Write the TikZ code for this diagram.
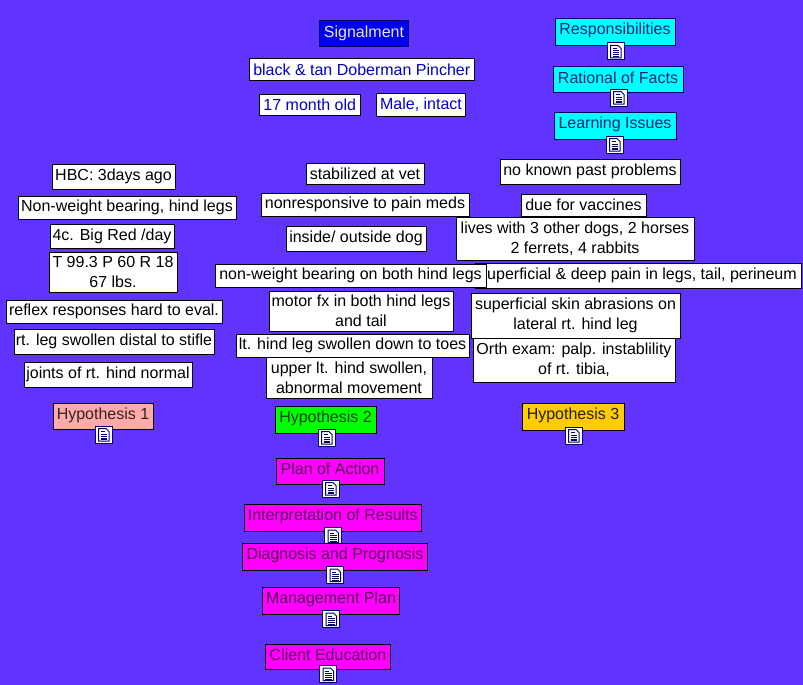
\documentclass[tikz,border=0pt]{standalone}
\usepackage{fontspec}
\setmainfont{Liberation Sans}
\definecolor{bgc}{HTML}{6033FF}
\definecolor{navyc}{HTML}{000066}
\definecolor{bluec}{HTML}{0000CC}
\definecolor{sigc}{HTML}{0000EE}
\definecolor{cyanc}{HTML}{00FFFF}
\definecolor{pinkc}{HTML}{FFAAAA}
\definecolor{greenc}{HTML}{00FF00}
\definecolor{goldc}{HTML}{FFCC00}
\definecolor{magc}{HTML}{FF00FF}
\tikzset{
  boxs/.style={draw=black,line width=1pt,inner sep=0pt,outer sep=0pt,align=center,
    font=\fontsize{16}{20}\selectfont,text=black,fill=white},
  sigbox/.style={fill=sigc,draw=navyc,text=white!90!sigc},
  bluebox/.style={text=bluec},
  cyanbox/.style={fill=cyanc,draw=navyc,text=navyc!85!cyanc},
  pinkbox/.style={fill=pinkc,text=black!80!pinkc},
  greenbox/.style={fill=greenc,text=black!75!greenc},
  goldbox/.style={fill=goldc,text=black!85!goldc},
  magbox/.style={fill=magc,text=black!65!magc},
  iconbox/.style={draw=navyc,fill=white,line width=1pt,minimum size=17pt,inner sep=0pt,outer sep=0pt},
  iconink/.style={draw=navyc,line width=1pt},
}
\newcommand\bx[7]{\node[boxs,#6,minimum width={(#4-#2)*1pt},minimum height={(#5-#3)*1pt}] (#1) at ({(#2+#4)/2},{(#3+#5)/2}) {#7};}
\newcommand\cx[7]{\node[boxs,#6,minimum width={(#4-#2)*1pt},text height=16pt,text depth={(#5-#3-16)*1pt}] (#1) at ({(#2+#4)/2},{(#3+#5)/2}) {#7};}
\newcommand\ic[3]{%
  \node[iconbox] (#1) at ({#2+8.5},{#3+8.5}) {};
  \begin{scope}[shift={(#2,#3)}]
    \draw[iconink,fill=white] (3.5,2.5) -- (11,2.5) -- (14,5.5) -- (14,15) -- (3.5,15) -- cycle;
    \draw[iconink] (5.5,5.5) -- (9.5,5.5) (5.5,8) -- (12,8) (5.5,10) -- (12,10) (5.5,12) -- (12,12) (5.5,13.6) -- (12,13.6);
  \end{scope}}
\begin{document}
\begin{tikzpicture}[x=1pt,y=-1pt]
\useasboundingbox (0,0) rectangle (803,685);
\fill[bgc] (0,0) rectangle (803,685);
% top
\bx{sig}{319.5}{21}{408.5}{46.5}{sigbox}{Signalment}
\bx{breed}{249.5}{59}{474}{80}{bluebox}{black \& tan Doberman Pincher}
\bx{age}{259.5}{94}{360}{115}{bluebox}{17 month old}
\bx{sex}{376.5}{93.5}{465.5}{116}{bluebox}{Male, intact}
\cx{resp}{555}{19}{675}{46}{cyanbox}{Responsibilities}
\ic{irsp}{607}{43}
\cx{rat}{553}{67}{683}{92}{cyanbox}{Rational of Facts}
\ic{irat}{610}{89}
\cx{learn}{554}{112}{676}{139}{cyanbox}{Learning Issues}
\ic{ilrn}{606}{136}
% left
\bx{hbc}{52}{164}{175}{189}{}{HBC: 3days ago}
\bx{nwb}{18}{196}{236}{219}{}{Non-weight bearing, hind legs}
\bx{bigred}{50}{224}{174}{248}{}{4c. Big Red /day}
\bx{vitals}{49}{252}{177}{292}{}{T 99.3 P 60 R 18\\67 lbs.}
\bx{reflex}{6}{300}{222}{323}{}{reflex responses hard to eval.}
\bx{rtleg}{14}{329}{214}{354}{}{rt. leg swollen distal to stifle}
\bx{joints}{24}{362}{192}{387}{}{joints of rt. hind normal}
\cx{hyp1}{53}{403}{153}{429}{pinkbox}{Hypothesis 1}
\ic{ih1}{95}{426}
% right
\bx{past}{500}{159}{680}{184}{}{no known past problems}
\bx{vacc}{521}{194}{646}{216}{}{due for vaccines}
\bx{lives}{456}{217}{694}{260}{}{lives with 3 other dogs, 2 horses\\2 ferrets, 4 rabbits}
\bx{pain}{475}{263}{801}{288}{}{superficial \& deep pain in legs, tail, perineum}
\bx{skin}{471}{293}{680}{338}{}{superficial skin abrasions on\\lateral rt. hind leg}
\bx{orth}{473}{338}{675}{382}{}{Orth exam: palp. instablility\\of rt. tibia,}
\cx{hyp3}{522}{403}{624}{430}{goldbox}{Hypothesis 3}
\ic{ih3}{565}{427}
% middle
\bx{stab}{306}{163}{424}{184}{}{stabilized at vet}
\bx{nonresp}{261}{193}{469}{216}{}{nonresponsive to pain meds}
\bx{inside}{286}{226}{426}{251}{}{inside/ outside dog}
\bx{nwboth}{215}{264}{486}{287}{}{non-weight bearing on both hind legs}
\bx{motor}{269}{291}{453}{331}{}{motor fx in both hind legs\\and tail}
\bx{upper}{266}{357}{432}{398}{}{upper lt. hind swollen,\\abnormal movement}
\bx{lthind}{236}{334}{469}{357}{}{lt. hind leg swollen down to toes}
\cx{hyp2}{275}{406}{376}{433}{greenbox}{Hypothesis 2}
\ic{ih2}{318}{429}
\cx{plan}{276}{458}{384}{484}{magbox}{Plan of Action}
\ic{iplan}{322}{480}
\cx{interp}{244}{504}{421.5}{531.5}{magbox}{Interpretation of Results}
\ic{iint}{324.5}{527.5}
\cx{diag}{242.5}{543.5}{427.5}{570.5}{magbox}{Diagnosis and Prognosis}
\ic{idiag}{326.5}{566.5}
\cx{mgmt}{262.5}{587.5}{399.5}{614.5}{magbox}{Management Plan}
\ic{imgmt}{322.5}{610.5}
\cx{client}{265.5}{644.5}{390.5}{669.5}{magbox}{Client Education}
\ic{icli}{319.5}{665.5}
\end{tikzpicture}
\end{document}
